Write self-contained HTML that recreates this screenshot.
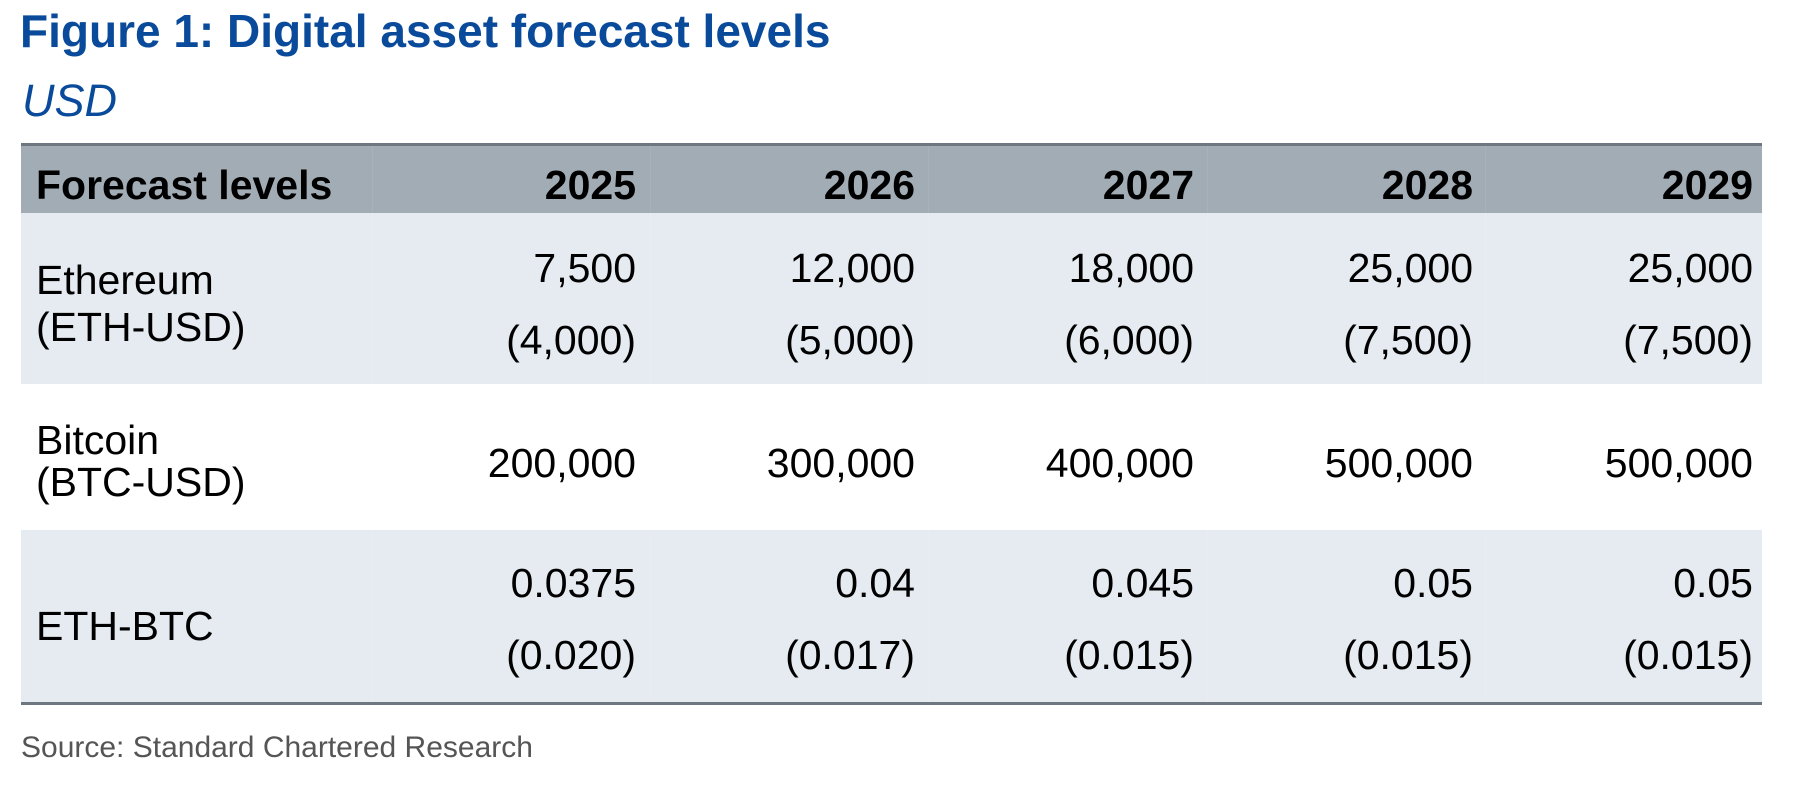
<!DOCTYPE html>
<html><head><meta charset="utf-8"><style>
body{margin:0;width:1798px;height:812px;background:#fff;position:relative;overflow:hidden;font-family:"Liberation Sans",Arial,sans-serif;}
.a{position:absolute;white-space:nowrap;line-height:1;}
.r{text-align:right;}
.t{color:#0a4a9b;}
.v{font-size:41px;color:#000;}
.h{font-size:41px;font-weight:bold;color:#000;}
.s{position:absolute;width:1px;background:#e9edf2;}
</style></head><body>
<div class="a t" style="left:20px;top:8px;font-size:46px;font-weight:bold;">Figure 1: Digital asset forecast levels</div>
<div class="a t" style="left:22px;top:78px;font-size:45px;font-style:italic;">USD</div>

<div style="position:absolute;left:21px;top:143px;width:1741px;height:3px;background:#6e7780"></div>
<div style="position:absolute;left:21px;top:146px;width:1741px;height:67px;background:#a2acb5"></div>
<div style="position:absolute;left:21px;top:213px;width:1741px;height:171px;background:#e5ebf1"></div>
<div style="position:absolute;left:21px;top:530px;width:1741px;height:172px;background:#e5ebf1"></div>
<div style="position:absolute;left:21px;top:702px;width:1741px;height:3px;background:#6e7780"></div>
<div class="s" style="left:372px;top:213px;height:171px"></div>
<div class="s" style="left:650px;top:213px;height:171px"></div>
<div class="s" style="left:928px;top:213px;height:171px"></div>
<div class="s" style="left:1207px;top:213px;height:171px"></div>
<div class="s" style="left:1485px;top:213px;height:171px"></div>
<div class="s" style="left:372px;top:530px;height:172px"></div>
<div class="s" style="left:650px;top:530px;height:172px"></div>
<div class="s" style="left:928px;top:530px;height:172px"></div>
<div class="s" style="left:1207px;top:530px;height:172px"></div>
<div class="s" style="left:1485px;top:530px;height:172px"></div>
<div class="s" style="left:372px;top:146px;height:67px;background:#a9b2ba"></div>
<div class="s" style="left:650px;top:146px;height:67px;background:#a9b2ba"></div>
<div class="s" style="left:928px;top:146px;height:67px;background:#a9b2ba"></div>
<div class="s" style="left:1207px;top:146px;height:67px;background:#a9b2ba"></div>
<div class="s" style="left:1485px;top:146px;height:67px;background:#a9b2ba"></div>

<div class="a h" style="left:36px;top:165px;">Forecast levels</div>
<div class="a h r" style="right:1162px;top:165px;">2025</div>
<div class="a h r" style="right:883px;top:165px;">2026</div>
<div class="a h r" style="right:604px;top:165px;">2027</div>
<div class="a h r" style="right:325px;top:165px;">2028</div>
<div class="a h r" style="right:45px;top:165px;">2029</div>

<div class="a v" style="left:36px;top:260px;">Ethereum</div>
<div class="a v" style="left:36px;top:307px;">(ETH-USD)</div>
<div class="a v r" style="right:1162px;top:248px;">7,500</div>
<div class="a v r" style="right:883px;top:248px;">12,000</div>
<div class="a v r" style="right:604px;top:248px;">18,000</div>
<div class="a v r" style="right:325px;top:248px;">25,000</div>
<div class="a v r" style="right:45px;top:248px;">25,000</div>
<div class="a v r" style="right:1162px;top:320px;">(4,000)</div>
<div class="a v r" style="right:883px;top:320px;">(5,000)</div>
<div class="a v r" style="right:604px;top:320px;">(6,000)</div>
<div class="a v r" style="right:325px;top:320px;">(7,500)</div>
<div class="a v r" style="right:45px;top:320px;">(7,500)</div>

<div class="a v" style="left:36px;top:420px;">Bitcoin</div>
<div class="a v" style="left:36px;top:462px;">(BTC-USD)</div>
<div class="a v r" style="right:1162px;top:443px;">200,000</div>
<div class="a v r" style="right:883px;top:443px;">300,000</div>
<div class="a v r" style="right:604px;top:443px;">400,000</div>
<div class="a v r" style="right:325px;top:443px;">500,000</div>
<div class="a v r" style="right:45px;top:443px;">500,000</div>

<div class="a v" style="left:36px;top:606px;">ETH-BTC</div>
<div class="a v r" style="right:1162px;top:563px;">0.0375</div>
<div class="a v r" style="right:883px;top:563px;">0.04</div>
<div class="a v r" style="right:604px;top:563px;">0.045</div>
<div class="a v r" style="right:325px;top:563px;">0.05</div>
<div class="a v r" style="right:45px;top:563px;">0.05</div>
<div class="a v r" style="right:1162px;top:635px;">(0.020)</div>
<div class="a v r" style="right:883px;top:635px;">(0.017)</div>
<div class="a v r" style="right:604px;top:635px;">(0.015)</div>
<div class="a v r" style="right:325px;top:635px;">(0.015)</div>
<div class="a v r" style="right:45px;top:635px;">(0.015)</div>

<div class="a" style="left:21px;top:733px;font-size:30px;color:#555;">Source: Standard Chartered Research</div>
</body></html>
